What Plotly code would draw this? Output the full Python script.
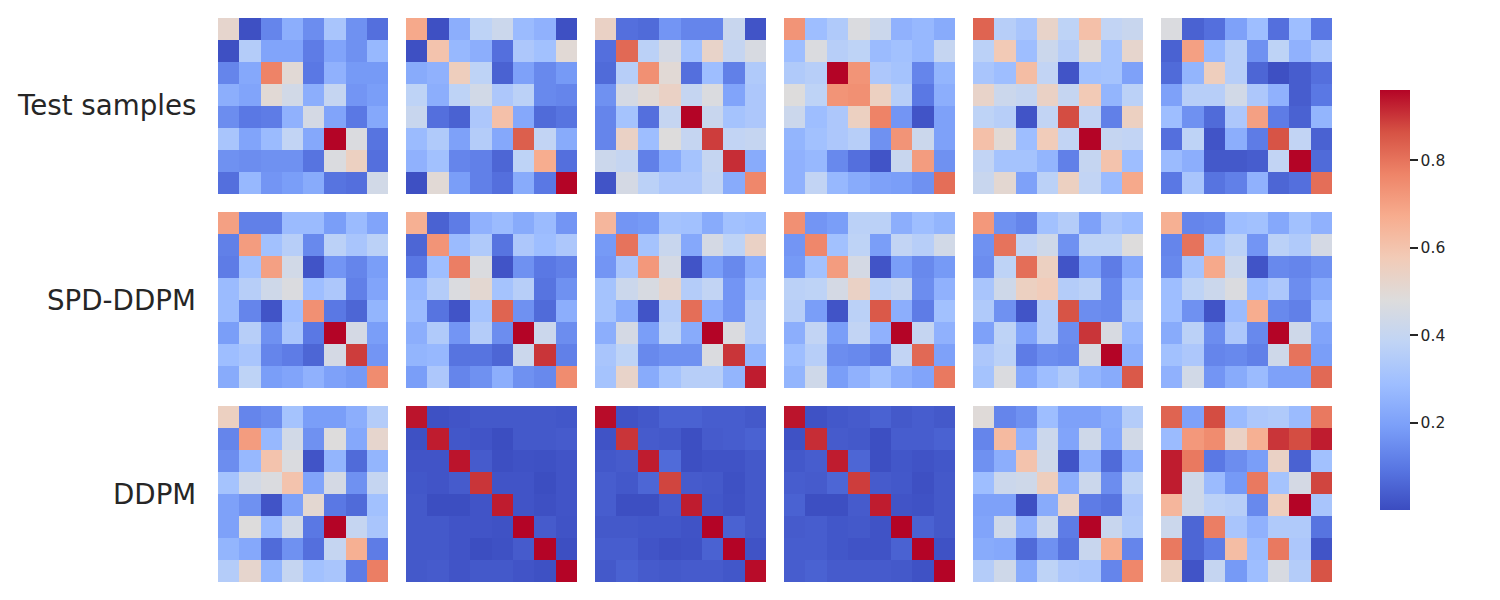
import plotly.graph_objects as go

# Values, one 8x8 matrix per panel
test_1 = [
    [.52, .01, .13, .24, .15, .32, .16, .08],
    [.01, .35, .21, .21, .11, .21, .16, .27],
    [.13, .22, .77, .50, .10, .25, .18, .18],
    [.24, .21, .50, .44, .24, .40, .17, .19],
    [.15, .10, .11, .25, .45, .21, .10, .22],
    [.32, .21, .28, .39, .22, .96, .47, .09],
    [.16, .15, .16, .16, .09, .47, .55, .08],
    [.08, .27, .17, .19, .23, .09, .08, .44],
]
test_2 = [
    [.68, .01, .24, .38, .42, .28, .25, .01],
    [.01, .60, .27, .24, .08, .33, .30, .50],
    [.23, .25, .56, .38, .05, .20, .14, .18],
    [.38, .24, .38, .44, .33, .37, .14, .13],
    [.41, .08, .05, .33, .61, .22, .07, .09],
    [.28, .34, .20, .35, .22, .84, .39, .23],
    [.25, .30, .13, .12, .06, .38, .67, .08],
    [.01, .50, .19, .12, .08, .23, .10, .96],
]
test_3 = [
    [.54, .08, .07, .17, .13, .13, .41, .02],
    [.08, .82, .37, .45, .30, .53, .40, .46],
    [.07, .36, .74, .50, .08, .29, .12, .34],
    [.16, .45, .50, .54, .40, .47, .21, .33],
    [.13, .31, .08, .40, .96, .41, .31, .33],
    [.13, .54, .29, .48, .40, .89, .39, .40],
    [.42, .40, .12, .23, .31, .40, .91, .23],
    [.02, .45, .37, .33, .33, .39, .23, .76],
]
test_4 = [
    [.73, .29, .34, .47, .42, .25, .27, .23],
    [.29, .47, .36, .38, .28, .30, .27, .40],
    [.34, .36, .96, .73, .33, .31, .13, .26],
    [.48, .38, .73, .74, .55, .36, .10, .24],
    [.42, .29, .33, .55, .77, .17, .02, .20],
    [.26, .30, .33, .36, .16, .73, .42, .20],
    [.25, .27, .14, .08, .02, .41, .71, .16],
    [.25, .39, .27, .23, .20, .19, .16, .81],
]
test_5 = [
    [.83, .36, .32, .53, .38, .61, .39, .41],
    [.37, .58, .29, .42, .36, .50, .31, .52],
    [.32, .29, .62, .39, .02, .30, .31, .20],
    [.53, .42, .40, .54, .40, .58, .26, .37],
    [.38, .36, .02, .39, .87, .39, .12, .55],
    [.61, .50, .29, .57, .39, .96, .40, .39],
    [.39, .31, .31, .26, .12, .40, .60, .29],
    [.41, .51, .20, .37, .55, .39, .28, .68],
]
test_6 = [
    [.47, .05, .08, .20, .29, .08, .29, .10],
    [.05, .70, .27, .36, .16, .38, .25, .32],
    [.07, .26, .56, .36, .06, .01, .04, .08],
    [.20, .36, .36, .44, .33, .25, .04, .10],
    [.29, .16, .07, .33, .70, .11, .05, .26],
    [.08, .38, .02, .24, .11, .86, .39, .05],
    [.28, .24, .03, .03, .04, .39, .96, .07],
    [.10, .32, .09, .12, .25, .06, .08, .81],
]
spd_1 = [
    [.70, .12, .12, .28, .28, .19, .28, .21],
    [.12, .71, .30, .36, .14, .37, .32, .37],
    [.11, .30, .70, .44, .02, .17, .13, .19],
    [.28, .36, .43, .47, .29, .33, .12, .21],
    [.28, .13, .02, .29, .74, .10, .06, .26],
    [.19, .36, .16, .32, .10, .96, .45, .19],
    [.29, .32, .13, .11, .06, .45, .89, .17],
    [.23, .38, .19, .21, .25, .20, .18, .75],
]
spd_2 = [
    [.66, .05, .11, .25, .28, .23, .28, .17],
    [.06, .73, .28, .34, .09, .33, .29, .33],
    [.10, .29, .78, .47, .02, .16, .10, .12],
    [.27, .35, .47, .51, .31, .36, .09, .16],
    [.28, .09, .02, .31, .83, .16, .07, .24],
    [.24, .34, .17, .35, .15, .96, .42, .15],
    [.26, .27, .09, .09, .06, .42, .90, .12],
    [.19, .33, .13, .16, .24, .16, .14, .75],
]
spd_3 = [
    [.64, .17, .18, .31, .30, .23, .30, .29],
    [.18, .80, .31, .41, .22, .45, .38, .54],
    [.17, .32, .72, .45, .02, .19, .14, .24],
    [.31, .42, .46, .52, .35, .39, .17, .31],
    [.31, .23, .02, .35, .81, .24, .17, .35],
    [.24, .45, .19, .38, .23, .96, .47, .35],
    [.32, .38, .14, .16, .16, .47, .90, .26],
    [.31, .53, .23, .31, .36, .36, .26, .93],
]
spd_4 = [
    [.74, .17, .19, .37, .37, .24, .29, .26],
    [.17, .76, .30, .38, .19, .39, .36, .44],
    [.18, .30, .71, .45, .02, .19, .14, .18],
    [.37, .38, .45, .54, .37, .40, .15, .25],
    [.36, .19, .02, .37, .85, .24, .11, .30],
    [.24, .39, .19, .39, .25, .96, .40, .25],
    [.29, .36, .15, .14, .11, .39, .82, .20],
    [.26, .43, .19, .25, .30, .24, .21, .79],
]
spd_5 = [
    [.72, .16, .13, .30, .35, .20, .32, .29],
    [.16, .80, .39, .43, .16, .38, .38, .48],
    [.15, .38, .81, .55, .02, .20, .11, .22],
    [.32, .43, .55, .57, .35, .37, .14, .30],
    [.34, .16, .02, .35, .86, .15, .14, .34],
    [.20, .38, .21, .35, .15, .90, .46, .27],
    [.33, .37, .11, .15, .14, .46, .96, .24],
    [.31, .47, .22, .29, .34, .26, .23, .85],
]
spd_6 = [
    [.66, .13, .14, .29, .30, .22, .30, .25],
    [.13, .80, .31, .37, .17, .37, .34, .45],
    [.14, .31, .68, .42, .02, .14, .13, .16],
    [.29, .38, .42, .47, .28, .33, .15, .23],
    [.29, .16, .02, .28, .67, .14, .12, .28],
    [.23, .37, .15, .33, .14, .96, .43, .21],
    [.30, .33, .13, .14, .12, .43, .80, .19],
    [.25, .44, .17, .23, .28, .20, .20, .82],
]
ddpm_1 = [
    [.55, .13, .15, .31, .19, .19, .24, .35],
    [.13, .71, .27, .44, .16, .48, .22, .52],
    [.15, .27, .60, .47, .02, .26, .07, .26],
    [.31, .44, .47, .60, .21, .45, .16, .40],
    [.20, .16, .02, .20, .51, .10, .07, .30],
    [.20, .48, .27, .44, .10, .96, .40, .32],
    [.26, .22, .07, .16, .08, .40, .66, .11],
    [.35, .52, .26, .40, .30, .32, .11, .78],
]
ddpm_2 = [
    [.94, .012, .02, .03, .03, .03, .03, .025],
    [.012, .93, .025, .02, .005, .03, .03, .035],
    [.02, .02, .94, .035, .008, .015, .012, .02],
    [.025, .02, .035, .90, .02, .02, .005, .02],
    [.03, .005, .005, .02, .93, .02, .01, .02],
    [.03, .03, .02, .02, .015, .96, .035, .018],
    [.03, .03, .02, .005, .012, .035, .96, .008],
    [.03, .035, .02, .03, .03, .02, .012, .96],
]
ddpm_3 = [
    [.95, .018, .028, .05, .05, .04, .04, .03],
    [.018, .90, .035, .03, .008, .035, .04, .05],
    [.028, .035, .93, .07, .008, .018, .018, .03],
    [.04, .028, .06, .88, .035, .03, .012, .03],
    [.04, .008, .008, .035, .93, .025, .015, .03],
    [.03, .03, .025, .025, .018, .96, .05, .03],
    [.04, .04, .02, .01, .015, .05, .96, .018],
    [.03, .05, .035, .03, .035, .035, .025, .95],
]
ddpm_4 = [
    [.94, .015, .028, .035, .05, .03, .04, .03],
    [.015, .91, .035, .03, .008, .04, .04, .05],
    [.028, .04, .93, .06, .008, .025, .018, .025],
    [.04, .035, .06, .89, .035, .028, .01, .03],
    [.05, .008, .008, .035, .93, .02, .015, .03],
    [.035, .04, .025, .03, .018, .96, .05, .03],
    [.04, .04, .025, .018, .018, .05, .96, .015],
    [.04, .05, .035, .035, .035, .03, .015, .96],
]
ddpm_5 = [
    [.49, .13, .16, .29, .20, .20, .23, .35],
    [.13, .63, .25, .42, .21, .43, .22, .44],
    [.16, .24, .60, .43, .02, .24, .07, .24],
    [.29, .42, .43, .56, .24, .42, .15, .38],
    [.20, .20, .01, .23, .53, .11, .09, .33],
    [.21, .43, .25, .42, .11, .96, .41, .34],
    [.23, .22, .07, .16, .09, .41, .67, .13],
    [.35, .43, .23, .38, .33, .32, .13, .76],
]
ddpm_6 = [
    [.83, .20, .87, .28, .33, .34, .28, .79],
    [.28, .72, .75, .54, .66, .90, .87, .93],
    [.93, .79, .10, .15, .19, .54, .05, .30],
    [.93, .43, .28, .18, .79, .31, .45, .88],
    [.64, .43, .37, .36, .14, .56, .96, .32],
    [.42, .06, .78, .32, .25, .34, .34, .09],
    [.79, .06, .11, .62, .28, .79, .33, .02],
    [.55, .02, .40, .18, .29, .46, .35, .86],
]

row_labels = ["Test samples", "SPD-DDPM", "DDPM"]
panels = [
    [test_1, test_2, test_3, test_4, test_5, test_6],
    [spd_1, spd_2, spd_3, spd_4, spd_5, spd_6],
    [ddpm_1, ddpm_2, ddpm_3, ddpm_4, ddpm_5, ddpm_6],
]
cbar_ticks = [0.2, 0.4, 0.6, 0.8]

W, H = 1500, 600
col_edges = [(218, 388), (406, 577), (595, 766), (784, 955), (973, 1143), (1161, 1332)]
row_edges = [(18, 194), (212, 388), (406, 582)]

# matplotlib coolwarm
coolwarm = [
    [0.0, "#3b4cc0"], [0.1, "#5977e3"], [0.2, "#7b9ff9"], [0.3, "#9ebeff"],
    [0.4, "#c0d4f5"], [0.5, "#dddcdc"], [0.6, "#f2cbb7"], [0.7, "#f7ac8e"],
    [0.8, "#ee8468"], [0.9, "#d65244"], [1.0, "#b40426"],
]

fig = go.Figure()
layout = {}
n = 0
for r, row in enumerate(panels):
    y0, y1 = row_edges[r]
    for c, z in enumerate(row):
        n += 1
        x0, x1 = col_edges[c]
        suffix = "" if n == 1 else str(n)
        fig.add_trace(go.Heatmap(z=z, coloraxis="coloraxis", xaxis=f"x{suffix}", yaxis=f"y{suffix}"))
        layout[f"xaxis{suffix}"] = dict(domain=[x0 / W, x1 / W], visible=False, anchor=f"y{suffix}")
        layout[f"yaxis{suffix}"] = dict(domain=[1 - y1 / H, 1 - y0 / H], visible=False,
                                        anchor=f"x{suffix}", autorange="reversed")

for label, (y0, y1) in zip(row_labels, row_edges):
    fig.add_annotation(text=label, xref="paper", yref="paper", x=198 / W, y=1 - (y0 + y1) / 2 / H,
                       xanchor="right", yanchor="middle", showarrow=False,
                       font=dict(family="DejaVu Sans", size=27.7, color="#262626"))

fig.update_layout(
    width=W, height=H, margin=dict(l=0, r=0, t=0, b=0),
    paper_bgcolor="white", plot_bgcolor="white",
    coloraxis=dict(
        colorscale=coolwarm, cmin=0.0014, cmax=0.96,
        colorbar=dict(
            x=1380 / W, xanchor="left", xpad=0, y=0.5, yanchor="middle", ypad=0,
            lenmode="pixels", len=420, thicknessmode="pixels", thickness=30,
            outlinewidth=0, tickmode="array", tickvals=cbar_ticks, ticktext=[str(t) for t in cbar_ticks],
            ticks="outside", ticklen=8, tickwidth=1.5, tickcolor="#262626",
            tickfont=dict(family="DejaVu Sans", size=15.5, color="#262626"),
        ),
    ),
    **layout,
)

fig.write_html("out.html", config={"displayModeBar": False},
               post_script="document.body.style.margin='0';")
